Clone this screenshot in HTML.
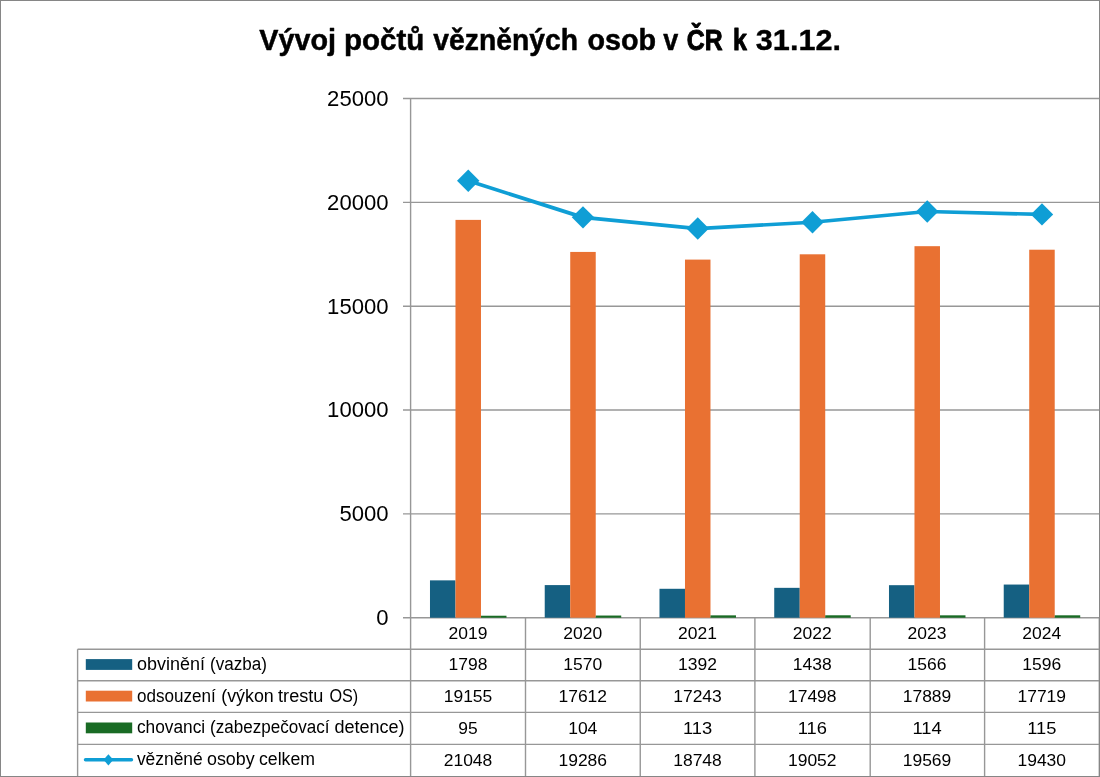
<!DOCTYPE html><html><head><meta charset="utf-8"><title>chart</title>
<style>html,body{margin:0;padding:0;background:#fff;}body{width:1100px;height:777px;overflow:hidden;}svg{display:block;will-change:transform;}text{font-family:"Liberation Sans",sans-serif;fill:#000;}</style></head><body>
<svg width="1100" height="777" viewBox="0 0 1100 777">
<rect x="0" y="0" width="1100" height="777" fill="#fff"/>
<line x1="403" y1="617.70" x2="1099.35" y2="617.70" stroke="#979797" stroke-width="1.4"/>
<line x1="403" y1="513.86" x2="1099.35" y2="513.86" stroke="#979797" stroke-width="1.4"/>
<line x1="403" y1="410.02" x2="1099.35" y2="410.02" stroke="#979797" stroke-width="1.4"/>
<line x1="403" y1="306.18" x2="1099.35" y2="306.18" stroke="#979797" stroke-width="1.4"/>
<line x1="403" y1="202.34" x2="1099.35" y2="202.34" stroke="#979797" stroke-width="1.4"/>
<line x1="403" y1="98.50" x2="1099.35" y2="98.50" stroke="#979797" stroke-width="1.4"/>
<line x1="410.6" y1="98.5" x2="410.6" y2="776.2" stroke="#979797" stroke-width="1.4"/>
<rect x="429.98" y="580.36" width="25.5" height="37.34" fill="#156082"/>
<rect x="455.48" y="219.89" width="25.5" height="397.81" fill="#E97132"/>
<rect x="480.98" y="615.73" width="25.5" height="1.97" fill="#196B24"/>
<rect x="544.73" y="585.09" width="25.5" height="32.61" fill="#156082"/>
<rect x="570.23" y="251.93" width="25.5" height="365.77" fill="#E97132"/>
<rect x="595.73" y="615.54" width="25.5" height="2.16" fill="#196B24"/>
<rect x="659.48" y="588.79" width="25.5" height="28.91" fill="#156082"/>
<rect x="684.98" y="259.60" width="25.5" height="358.10" fill="#E97132"/>
<rect x="710.48" y="615.35" width="25.5" height="2.35" fill="#196B24"/>
<rect x="774.23" y="587.84" width="25.5" height="29.86" fill="#156082"/>
<rect x="799.73" y="254.30" width="25.5" height="363.40" fill="#E97132"/>
<rect x="825.23" y="615.29" width="25.5" height="2.41" fill="#196B24"/>
<rect x="888.98" y="585.18" width="25.5" height="32.52" fill="#156082"/>
<rect x="914.48" y="246.18" width="25.5" height="371.52" fill="#E97132"/>
<rect x="939.98" y="615.33" width="25.5" height="2.37" fill="#196B24"/>
<rect x="1003.73" y="584.55" width="25.5" height="33.15" fill="#156082"/>
<rect x="1029.22" y="249.71" width="25.5" height="367.99" fill="#E97132"/>
<rect x="1054.72" y="615.31" width="25.5" height="2.39" fill="#196B24"/>
<line x1="77.6" y1="649.2" x2="1099.35" y2="649.2" stroke="#979797" stroke-width="1.4"/>
<line x1="77.6" y1="680.8" x2="1099.35" y2="680.8" stroke="#979797" stroke-width="1.4"/>
<line x1="77.6" y1="712.4" x2="1099.35" y2="712.4" stroke="#979797" stroke-width="1.4"/>
<line x1="77.6" y1="744.4" x2="1099.35" y2="744.4" stroke="#979797" stroke-width="1.4"/>
<line x1="77.6" y1="649.2" x2="77.6" y2="776.2" stroke="#979797" stroke-width="1.4"/>
<line x1="525.50" y1="617.7" x2="525.50" y2="776.2" stroke="#979797" stroke-width="1.4"/>
<line x1="640.25" y1="617.7" x2="640.25" y2="776.2" stroke="#979797" stroke-width="1.4"/>
<line x1="754.90" y1="617.7" x2="754.90" y2="776.2" stroke="#979797" stroke-width="1.4"/>
<line x1="870.20" y1="617.7" x2="870.20" y2="776.2" stroke="#979797" stroke-width="1.4"/>
<line x1="984.60" y1="617.7" x2="984.60" y2="776.2" stroke="#979797" stroke-width="1.4"/>
<line x1="1099.30" y1="617.7" x2="1099.30" y2="776.2" stroke="#979797" stroke-width="1.4"/>
<polyline fill="none" stroke="#0F9ED5" stroke-width="3.7" stroke-linejoin="round" stroke-linecap="round" points="468.23,180.78 582.98,217.37 697.73,228.54 812.48,222.23 927.23,211.49 1041.97,214.38"/>
<polygon fill="#0F9ED5" points="468.23,169.58 479.43,180.78 468.23,191.98 457.03,180.78"/>
<polygon fill="#0F9ED5" points="582.98,206.17 594.18,217.37 582.98,228.57 571.77,217.37"/>
<polygon fill="#0F9ED5" points="697.73,217.34 708.93,228.54 697.73,239.74 686.52,228.54"/>
<polygon fill="#0F9ED5" points="812.48,211.03 823.68,222.23 812.48,233.43 801.27,222.23"/>
<polygon fill="#0F9ED5" points="927.23,200.29 938.43,211.49 927.23,222.69 916.02,211.49"/>
<polygon fill="#0F9ED5" points="1041.97,203.18 1053.17,214.38 1041.97,225.58 1030.77,214.38"/>
<text x="388.6" y="625.15" font-size="22.6" text-anchor="end" textLength="12.3" lengthAdjust="spacingAndGlyphs">0</text>
<text x="388.6" y="521.31" font-size="22.6" text-anchor="end" textLength="49.2" lengthAdjust="spacingAndGlyphs">5000</text>
<text x="388.6" y="417.47" font-size="22.6" text-anchor="end" textLength="61.5" lengthAdjust="spacingAndGlyphs">10000</text>
<text x="388.6" y="313.63" font-size="22.6" text-anchor="end" textLength="61.5" lengthAdjust="spacingAndGlyphs">15000</text>
<text x="388.6" y="209.79" font-size="22.6" text-anchor="end" textLength="61.5" lengthAdjust="spacingAndGlyphs">20000</text>
<text x="388.6" y="105.95" font-size="22.6" text-anchor="end" textLength="61.5" lengthAdjust="spacingAndGlyphs">25000</text>
<text x="259.3" y="50.4" font-size="29" font-weight="bold" stroke="#000" stroke-width="0.5" stroke-linejoin="round" textLength="76.7" lengthAdjust="spacingAndGlyphs">Vývoj</text>
<text x="344" y="50.4" font-size="29" font-weight="bold" stroke="#000" stroke-width="0.5" stroke-linejoin="round" textLength="80.4" lengthAdjust="spacingAndGlyphs">počtů</text>
<text x="433.3" y="50.4" font-size="29" font-weight="bold" stroke="#000" stroke-width="0.5" stroke-linejoin="round" textLength="144.7" lengthAdjust="spacingAndGlyphs">vězněných</text>
<text x="587.4" y="50.4" font-size="29" font-weight="bold" stroke="#000" stroke-width="0.5" stroke-linejoin="round" textLength="68.6" lengthAdjust="spacingAndGlyphs">osob</text>
<text x="663.2" y="50.4" font-size="29" font-weight="bold" stroke="#000" stroke-width="0.5" stroke-linejoin="round" textLength="15.0" lengthAdjust="spacingAndGlyphs">v</text>
<text x="686.8" y="50.4" font-size="29" font-weight="bold" stroke="#000" stroke-width="1.0" stroke-linejoin="round" textLength="35.8" lengthAdjust="spacingAndGlyphs">ČR</text>
<text x="733" y="50.4" font-size="29" font-weight="bold" stroke="#000" stroke-width="1.0" stroke-linejoin="round" textLength="13.9" lengthAdjust="spacingAndGlyphs">k</text>
<text x="755.8" y="50.4" font-size="29" font-weight="bold" stroke="#000" stroke-width="0.35" stroke-linejoin="round" textLength="85.2" lengthAdjust="spacingAndGlyphs">31.12.</text>
<text x="468.03" y="638.90" font-size="17.3" text-anchor="middle" textLength="38.9" lengthAdjust="spacingAndGlyphs">2019</text>
<text x="468.03" y="670.40" font-size="17.3" text-anchor="middle" textLength="38.9" lengthAdjust="spacingAndGlyphs">1798</text>
<text x="468.03" y="702.00" font-size="17.3" text-anchor="middle" textLength="48.6" lengthAdjust="spacingAndGlyphs">19155</text>
<text x="468.03" y="733.60" font-size="17.3" text-anchor="middle" textLength="19.4" lengthAdjust="spacingAndGlyphs">95</text>
<text x="468.03" y="765.60" font-size="17.3" text-anchor="middle" textLength="48.6" lengthAdjust="spacingAndGlyphs">21048</text>
<text x="582.77" y="638.90" font-size="17.3" text-anchor="middle" textLength="38.9" lengthAdjust="spacingAndGlyphs">2020</text>
<text x="582.77" y="670.40" font-size="17.3" text-anchor="middle" textLength="38.9" lengthAdjust="spacingAndGlyphs">1570</text>
<text x="582.77" y="702.00" font-size="17.3" text-anchor="middle" textLength="48.6" lengthAdjust="spacingAndGlyphs">17612</text>
<text x="582.77" y="733.60" font-size="17.3" text-anchor="middle" textLength="29.2" lengthAdjust="spacingAndGlyphs">104</text>
<text x="582.77" y="765.60" font-size="17.3" text-anchor="middle" textLength="48.6" lengthAdjust="spacingAndGlyphs">19286</text>
<text x="697.52" y="638.90" font-size="17.3" text-anchor="middle" textLength="38.9" lengthAdjust="spacingAndGlyphs">2021</text>
<text x="697.52" y="670.40" font-size="17.3" text-anchor="middle" textLength="38.9" lengthAdjust="spacingAndGlyphs">1392</text>
<text x="697.52" y="702.00" font-size="17.3" text-anchor="middle" textLength="48.6" lengthAdjust="spacingAndGlyphs">17243</text>
<text x="697.52" y="733.60" font-size="17.3" text-anchor="middle" textLength="29.2" lengthAdjust="spacingAndGlyphs">113</text>
<text x="697.52" y="765.60" font-size="17.3" text-anchor="middle" textLength="48.6" lengthAdjust="spacingAndGlyphs">18748</text>
<text x="812.27" y="638.90" font-size="17.3" text-anchor="middle" textLength="38.9" lengthAdjust="spacingAndGlyphs">2022</text>
<text x="812.27" y="670.40" font-size="17.3" text-anchor="middle" textLength="38.9" lengthAdjust="spacingAndGlyphs">1438</text>
<text x="812.27" y="702.00" font-size="17.3" text-anchor="middle" textLength="48.6" lengthAdjust="spacingAndGlyphs">17498</text>
<text x="812.27" y="733.60" font-size="17.3" text-anchor="middle" textLength="29.2" lengthAdjust="spacingAndGlyphs">116</text>
<text x="812.27" y="765.60" font-size="17.3" text-anchor="middle" textLength="48.6" lengthAdjust="spacingAndGlyphs">19052</text>
<text x="927.02" y="638.90" font-size="17.3" text-anchor="middle" textLength="38.9" lengthAdjust="spacingAndGlyphs">2023</text>
<text x="927.02" y="670.40" font-size="17.3" text-anchor="middle" textLength="38.9" lengthAdjust="spacingAndGlyphs">1566</text>
<text x="927.02" y="702.00" font-size="17.3" text-anchor="middle" textLength="48.6" lengthAdjust="spacingAndGlyphs">17889</text>
<text x="927.02" y="733.60" font-size="17.3" text-anchor="middle" textLength="29.2" lengthAdjust="spacingAndGlyphs">114</text>
<text x="927.02" y="765.60" font-size="17.3" text-anchor="middle" textLength="48.6" lengthAdjust="spacingAndGlyphs">19569</text>
<text x="1041.77" y="638.90" font-size="17.3" text-anchor="middle" textLength="38.9" lengthAdjust="spacingAndGlyphs">2024</text>
<text x="1041.77" y="670.40" font-size="17.3" text-anchor="middle" textLength="38.9" lengthAdjust="spacingAndGlyphs">1596</text>
<text x="1041.77" y="702.00" font-size="17.3" text-anchor="middle" textLength="48.6" lengthAdjust="spacingAndGlyphs">17719</text>
<text x="1041.77" y="733.60" font-size="17.3" text-anchor="middle" textLength="29.2" lengthAdjust="spacingAndGlyphs">115</text>
<text x="1041.77" y="765.60" font-size="17.3" text-anchor="middle" textLength="48.6" lengthAdjust="spacingAndGlyphs">19430</text>
<rect x="85.8" y="659.10" width="46.4" height="10.8" fill="#156082"/>
<text x="136.90" y="670.05" font-size="18" textLength="68.0" lengthAdjust="spacingAndGlyphs">obvinění</text>
<text x="210.10" y="670.05" font-size="18" textLength="56.9" lengthAdjust="spacingAndGlyphs">(vazba)</text>
<rect x="85.8" y="690.70" width="46.4" height="10.8" fill="#E97132"/>
<text x="136.90" y="701.65" font-size="18" textLength="78.8" lengthAdjust="spacingAndGlyphs">odsouzení</text>
<text x="221.20" y="701.65" font-size="18" textLength="52.6" lengthAdjust="spacingAndGlyphs">(výkon</text>
<text x="278.10" y="701.65" font-size="18" textLength="45.2" lengthAdjust="spacingAndGlyphs">trestu</text>
<text x="329.40" y="701.65" font-size="18" textLength="28.8" lengthAdjust="spacingAndGlyphs">OS)</text>
<rect x="85.8" y="722.50" width="46.4" height="10.8" fill="#196B24"/>
<text x="136.90" y="733.25" font-size="18" textLength="68.3" lengthAdjust="spacingAndGlyphs">chovanci</text>
<text x="210.10" y="733.25" font-size="18" textLength="119.4" lengthAdjust="spacingAndGlyphs">(zabezpečovací</text>
<text x="334.40" y="733.25" font-size="18" textLength="70.2" lengthAdjust="spacingAndGlyphs">detence)</text>
<line x1="85.5" y1="759.80" x2="131.5" y2="759.80" stroke="#0F9ED5" stroke-width="3.4" stroke-linecap="round"/>
<polygon fill="#0F9ED5" points="108.4,754.20 113.3,759.80 108.4,765.40 103.5,759.80"/>
<text x="136.90" y="765.25" font-size="18" textLength="65.8" lengthAdjust="spacingAndGlyphs">vězněné</text>
<text x="207.00" y="765.25" font-size="18" textLength="47.7" lengthAdjust="spacingAndGlyphs">osoby</text>
<text x="259.00" y="765.25" font-size="18" textLength="56.0" lengthAdjust="spacingAndGlyphs">celkem</text>
<rect x="0.5" y="0.5" width="1099" height="776" fill="none" stroke="#868686" stroke-width="1"/>
</svg></body></html>
